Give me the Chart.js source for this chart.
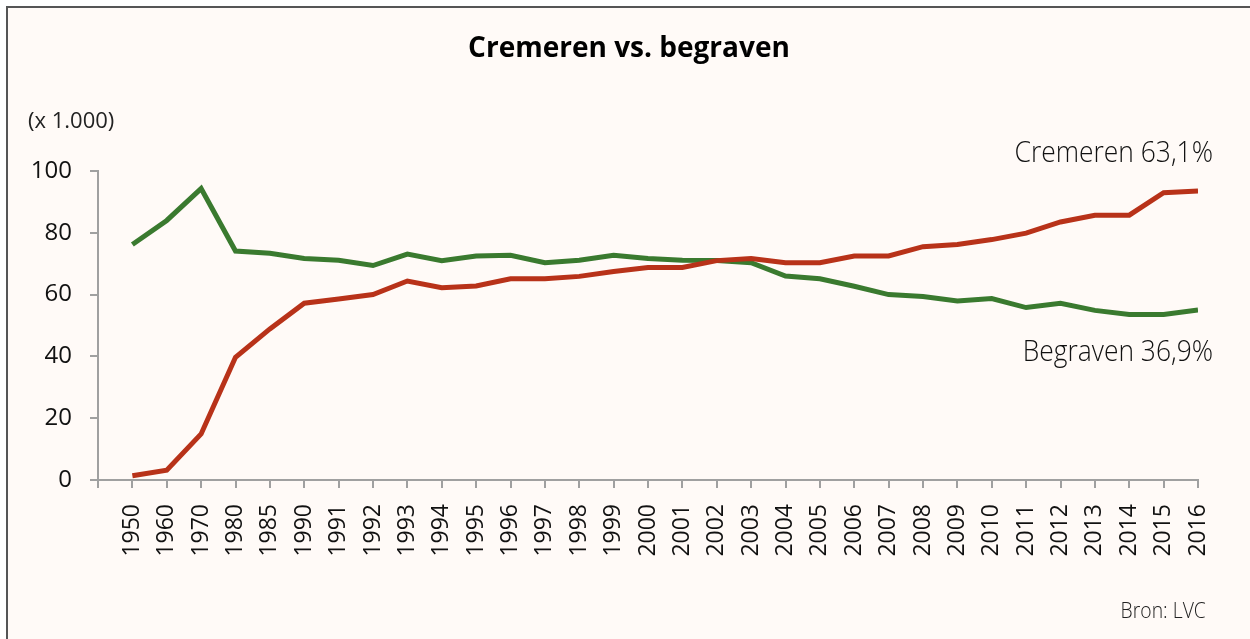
<!DOCTYPE html>
<html>
<head>
<meta charset="utf-8">
<script src="https://cdn.jsdelivr.net/npm/chart.js@4"></script>
<style>
    html, body { margin: 0; padding: 0; background: #fff; }
    #frame {
        position: absolute; left: 6px; top: 6px; width: 1300px; height: 700px;
        border-left: 2px solid #555; border-top: 2px solid #555;
        background: #fffaf7;
    }
    #wrap { position: absolute; left: 0; top: 0; width: 1250px; height: 639px; overflow: hidden; }
    canvas { position: absolute; left: 0; top: 0; }
    .txt { position: absolute; white-space: nowrap; color: #222; }
    #title { left: 0; width: 1258px; top: 27px; text-align: center; font: 700 28px "Open Sans"; color: #000; }
    #unit { left: 28px; top: 104px; font: 22px "Open Sans"; color: #222; }
    .note {
        font: 300 29px "Open Sans"; color: #111; right: 37px;
        transform: scaleX(0.91); transform-origin: right center;
    }
    #noteCrem { top: 131px; }
    #noteBegr { top: 330px; }
    #source {
        right: 44px; top: 594px; font: 300 22px "Open Sans"; color: #222;
        transform: scaleX(0.88); transform-origin: right center;
    }
</style>
</head>
<body>
<div id="wrap">
    <div id="frame"></div>
    <canvas id="chart" width="1250" height="639"></canvas>
    <div class="txt" id="title">Cremeren vs. begraven</div>
    <div class="txt" id="unit">(x 1.000)</div>
    <div class="txt note" id="noteCrem">Cremeren 63,1%</div>
    <div class="txt note" id="noteBegr">Begraven 36,9%</div>
    <div class="txt" id="source">Bron: LVC</div>
</div>
<script>
"use strict";

const years = ["1950", "1960", "1970", "1980", "1985", "1990", "1991", "1992", "1993", "1994", "1995",
    "1996", "1997", "1998", "1999", "2000", "2001", "2002", "2003", "2004", "2005",
    "2006", "2007", "2008", "2009", "2010", "2011", "2012", "2013", "2014", "2015", "2016"];

// aantallen x 1.000
const cremeren = [1.4, 3.2, 14.9, 39.7, 48.9, 57.2, 58.6, 60.0, 64.4, 62.2, 62.8,
    65.1, 65.1, 65.9, 67.5, 68.8, 68.8, 71.0, 71.7, 70.3, 70.3,
    72.5, 72.5, 75.5, 76.2, 77.8, 79.9, 83.5, 85.7, 85.7, 93.0, 93.5];

const begraven = [76.2, 84.0, 94.3, 74.1, 73.4, 71.7, 71.1, 69.4, 73.1, 71.0, 72.5,
    72.7, 70.3, 71.1, 72.7, 71.7, 71.1, 71.0, 70.3, 66.0, 65.1,
    62.7, 60.0, 59.4, 57.9, 58.7, 55.8, 57.2, 54.9, 53.6, 53.6, 55.0];

const yTicks = [0, 20, 40, 60, 80, 100];

const toPoints = (values) => values.map((v, i) => ({ x: i, y: v }));

const axisColor = "#a0a0a0";

const ctx = document.getElementById("chart").getContext("2d");
new Chart(ctx, {
    type: "line",
    data: {
        datasets: [
            {
                label: "Cremeren",
                data: toPoints(cremeren),
                borderColor: "#b83219",
                borderWidth: 5,
                pointRadius: 0,
                tension: 0
            },
            {
                label: "Begraven",
                data: toPoints(begraven),
                borderColor: "#3a7a2f",
                borderWidth: 5,
                pointRadius: 0,
                tension: 0
            }
        ]
    },
    options: {
        responsive: false,
        animation: false,
        layout: { padding: { top: 171, right: 52, bottom: 0, left: 0 } },
        plugins: {
            legend: { display: false },
            tooltip: { enabled: false }
        },
        scales: {
            x: {
                type: "linear",
                min: -1,
                max: years.length - 1,
                afterBuildTicks: (scale) => {
                    scale.ticks = [];
                    for (let i = -1; i < years.length; i++) scale.ticks.push({ value: i });
                },
                afterFit: (scale) => { scale.height = 159; },
                grid: {
                    drawOnChartArea: false,
                    color: axisColor,
                    lineWidth: 2,
                    tickLength: 8
                },
                border: { color: axisColor, width: 2 },
                ticks: {
                    autoSkip: false,
                    minRotation: 90,
                    maxRotation: 90,
                    padding: 16,
                    color: "#111",
                    font: { family: "Open Sans", size: 23 },
                    callback: (value) => years[value] ?? ""
                }
            },
            y: {
                min: 0,
                max: 100,
                afterBuildTicks: (scale) => {
                    scale.ticks = yTicks.map((v) => ({ value: v }));
                },
                afterFit: (scale) => { scale.width = 98; },
                grid: {
                    drawOnChartArea: false,
                    color: axisColor,
                    lineWidth: 2,
                    tickLength: 8
                },
                border: { color: axisColor, width: 2 },
                ticks: {
                    padding: 18,
                    color: "#111",
                    font: { family: "Open Sans", size: 24 }
                }
            }
        }
    }
});
</script>
</body>
</html>
